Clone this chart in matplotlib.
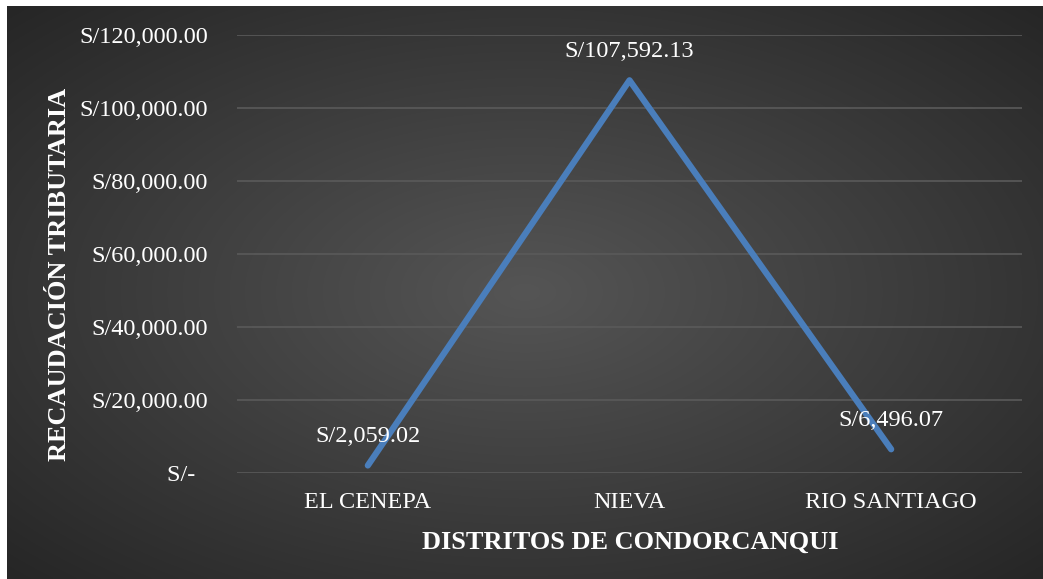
import numpy as np
import matplotlib
matplotlib.use("Agg")
import matplotlib.pyplot as plt
from matplotlib.ticker import FuncFormatter

categories = ["EL CENEPA", "NIEVA", "RIO SANTIAGO"]
values = [2059.02, 107592.13, 6496.07]
value_labels = ["S/2,059.02", "S/107,592.13", "S/6,496.07"]
y_ticks = [0, 20000, 40000, 60000, 80000, 100000, 120000]

W, H = 1043, 579
fig = plt.figure(figsize=(W / 100, H / 100), dpi=100)
fig.patch.set_facecolor("white")

# radial gradient background
bg = fig.add_axes([7 / W, 0, 1 - 7 / W, 1 - 6 / H])
bg.set_axis_off()
nx, ny = 400, 240
xx, yy = np.meshgrid(np.linspace(-1, 1, nx), np.linspace(-1, 1, ny))
r = np.sqrt(xx ** 2 + yy ** 2) / np.sqrt(2)
inner = np.array([0x55, 0x55, 0x55]) / 255
outer = np.array([0x26, 0x26, 0x26]) / 255
img = inner[None, None, :] * (1 - r[..., None]) + outer[None, None, :] * r[..., None]
bg.imshow(img, aspect="auto", extent=[0, 1, 0, 1], interpolation="bilinear")

serif = ["Liberation Serif", "DejaVu Serif"]
fs = 17.5
ax = fig.add_axes([237 / W, 1 - 473 / H, (1022 - 237) / W, (473 - 35) / H])
ax.patch.set_alpha(0)
x = np.arange(len(categories))
ax.plot(x, values, color="#4A7EBB", lw=4.5, solid_capstyle="round",
        solid_joinstyle="round", zorder=3)
ax.set_xlim(-0.5, len(categories) - 0.5)
ax.set_ylim(0, 120000)
ax.set_yticks(y_ticks)
ax.yaxis.set_major_formatter(FuncFormatter(
    lambda v, p: "S/-" + "  " if v == 0 else f"S/{v:,.2f}"))
ax.set_xticks(x)
ax.set_xticklabels(categories)
for s in ax.spines.values():
    s.set_visible(False)
ax.grid(axis="y", color="#5a5a5a", lw=1.2)
ax.set_axisbelow(True)
ax.tick_params(length=0, colors="white", labelsize=fs)
for lab in ax.get_xticklabels() + ax.get_yticklabels():
    lab.set_fontfamily(serif)
ax.tick_params(axis="y", pad=21)
ax.tick_params(axis="x", pad=14)

for xi, v, lab in zip(x, values, value_labels):
    ax.annotate(lab, (xi, v), xytext=(0, 13), textcoords="offset points",
                ha="center", va="bottom", color="white",
                fontsize=fs, family=serif, zorder=4)

fig.text(60 / W, 1 - 274 / H, "RECAUDACIÓN TRIBUTARIA", rotation=90,
         ha="center", va="center", color="white", fontsize=19,
         fontweight="bold", family=serif)
fig.text(630 / W, 1 - 542 / H, "DISTRITOS DE CONDORCANQUI",
         ha="center", va="center", color="white", fontsize=19,
         fontweight="bold", family=serif)

fig.savefig("out.png", dpi=100)
